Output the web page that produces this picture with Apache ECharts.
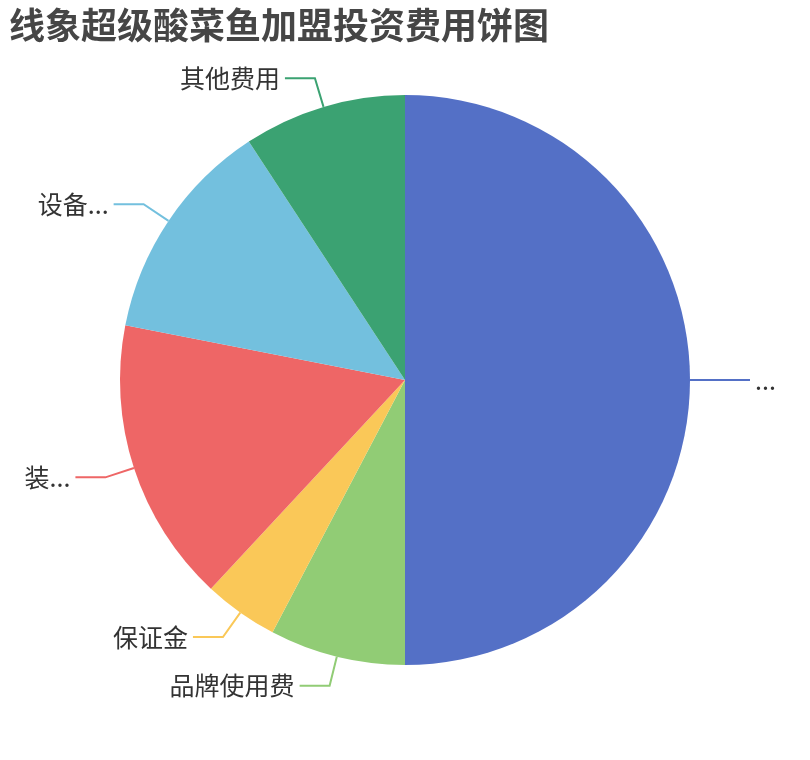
<!DOCTYPE html>
<html>
<head>
<meta charset="utf-8">
<script src="https://cdn.jsdelivr.net/npm/echarts@6/dist/echarts.min.js"></script>
<style>
  html, body { margin: 0; padding: 0; background: #fff; }
  #charts { width: 810px; height: 760px; }
</style>
</head>
<body>
<div id="charts"></div>
<script>
var categories = ['店面租金费用', '品牌使用费', '保证金', '装修费用', '设备费用', '其他费用'];
var values = [13, 2, 1.1, 4.2, 3.3, 2.4];
var colors = ['#5470c6', '#91cc75', '#fac858', '#ee6666', '#73c0de', '#3ba272'];

function initECharts(myChart) {
    var data = categories.map(function (name, i) {
        return { name: name, value: values[i] };
    });
    var option = {
        color: colors,
        title: {
            text: '线象超级酸菜鱼加盟投资费用饼图',
            left: 4,
            top: 2,
            textStyle: {
                fontSize: 36,
                fontWeight: 'bold',
                color: '#464646',
                fontFamily: 'Noto Sans CJK SC'
            }
        },
        series: [
            {
                type: 'pie',
                radius: '75%',
                center: ['50%', '50%'],
                data: data,
                label: {
                    fontSize: 25,
                    color: '#333',
                    fontFamily: 'Noto Sans CJK SC',
                    bleedMargin: 20
                },
                labelLine: {
                    length: 30,
                    length2: 30,
                    lineStyle: { width: 2 }
                }
            }
        ]
    };
    myChart.setOption(option);
}

window.onload = function () {
    var myChart = echarts.init(document.getElementById('charts'));
    initECharts(myChart);
};
</script>
</body>
</html>
